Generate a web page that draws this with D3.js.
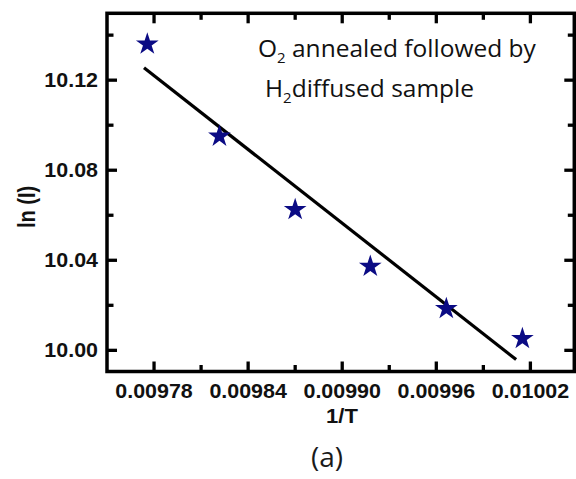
<!DOCTYPE html>
<html><head><meta charset="utf-8">
<script src="https://cdn.jsdelivr.net/npm/d3@7"></script>
<style>body{margin:0;background:#fff}svg{display:block}</style>
</head><body>
<script>
const invT = [0.0097757, 0.0098217, 0.00987, 0.0099179, 0.0099664, 0.0100149];
const lnI = [10.136, 10.0951, 10.0625, 10.0373, 10.0185, 10.0052];
const fitX = [0.0097736, 0.0100109];
const fitY = [10.1255, 9.9959];
const xTicks = [0.00978, 0.00984, 0.00990, 0.00996, 0.01002];
const xTickLabels = ["0.00978", "0.00984", "0.00990", "0.00996", "0.01002"];
const yTicks = [10.00, 10.04, 10.08, 10.12];
const yTickLabels = ["10.00", "10.04", "10.08", "10.12"];
const xMinor = [0.00981, 0.00987, 0.00993, 0.00999];
const yMinor = [10.02, 10.06, 10.10, 10.14];

const W = 576, H = 479;
const L = 107, R = 574.3, T = 13.3, B = 371.5;
const svg = d3.select("body").append("svg").attr("width", W).attr("height", H);
const x = d3.scaleLinear().domain([0.00975, 0.010048]).range([L, R]);
const y = d3.scaleLinear().domain([9.9906, 10.1497]).range([B, T]);

const ink = "#000";
const lab = "bold 19.5px 'Liberation Sans', Arial, sans-serif";

// inward ticks, drawn through the scales
const xt = xTicks.map(v => ({v, len: 10})).concat(xMinor.map(v => ({v, len: 6.5})));
const yt = yTicks.map(v => ({v, len: 10})).concat(yMinor.map(v => ({v, len: 6.5})));
const tk = svg.append("g");
tk.selectAll(".xb").data(xt).join("line").attr("class", "xb")
  .attr("x1", d => x(d.v)).attr("x2", d => x(d.v)).attr("y1", B).attr("y2", d => B - d.len)
  .attr("stroke", ink).attr("stroke-width", 3.3);
tk.selectAll(".xt").data(xt).join("line").attr("class", "xt")
  .attr("x1", d => x(d.v)).attr("x2", d => x(d.v)).attr("y1", T).attr("y2", d => T + d.len)
  .attr("stroke", ink).attr("stroke-width", 3.3);
tk.selectAll(".yl").data(yt).join("line").attr("class", "yl")
  .attr("y1", d => y(d.v)).attr("y2", d => y(d.v)).attr("x1", L).attr("x2", d => L + d.len)
  .attr("stroke", ink).attr("stroke-width", 3.3);
tk.selectAll(".yr").data(yt).join("line").attr("class", "yr")
  .attr("y1", d => y(d.v)).attr("y2", d => y(d.v)).attr("x1", R).attr("x2", d => R - d.len)
  .attr("stroke", ink).attr("stroke-width", 3.3);

svg.append("rect").attr("x", L).attr("y", T).attr("width", R - L).attr("height", B - T)
  .attr("fill", "none").attr("stroke", ink).attr("stroke-width", 3.5);

// tick labels
svg.append("g").selectAll("text").data(xTicks).join("text")
  .attr("transform", d => `translate(${x(d)},${B + 26}) scale(1.1,1)`)
  .attr("text-anchor", "middle").style("font", lab).attr("fill", "#111")
  .text((d, i) => xTickLabels[i]);
svg.append("g").selectAll("text").data(yTicks).join("text")
  .attr("transform", d => `translate(${L - 9},${y(d) + 7}) scale(1.1,1)`)
  .attr("text-anchor", "end").style("font", lab).attr("fill", "#111")
  .text((d, i) => yTickLabels[i]);

// axis titles
svg.append("text").attr("transform", `translate(342,423) scale(1.1,1)`).attr("text-anchor", "middle")
  .style("font", "bold 20px 'Liberation Sans', Arial, sans-serif").attr("fill", "#111").text("1/T");
svg.append("text").attr("transform", `translate(35,207) scale(1.15,1) rotate(-90)`).attr("text-anchor", "middle")
  .style("font", "bold 20px 'Liberation Sans', Arial, sans-serif").attr("fill", "#111").text("ln (I)");
svg.append("text").attr("x", 327).attr("y", 467).attr("text-anchor", "middle")
  .style("font", "28px 'Open Sans', 'Noto Sans', sans-serif").attr("fill", "#1a1a1a").text("(a)");

// fit line
svg.append("line").attr("x1", x(fitX[0])).attr("y1", y(fitY[0])).attr("x2", x(fitX[1])).attr("y2", y(fitY[1]))
  .attr("stroke", ink).attr("stroke-width", 3.2);

// stars
const star = d3.symbol().type(d3.symbolStar).size(160);
svg.append("g").selectAll("path").data(invT).join("path")
  .attr("d", star).attr("transform", (d, i) => `translate(${x(d)},${y(lnI[i])})`)
  .attr("fill", "#0b0b84");

// annotation
const af = "24.5px 'Open Sans', 'Noto Sans', sans-serif";
const t1 = svg.append("text").attr("x", 258).attr("y", 57).style("font", af).attr("fill", "#111");
t1.append("tspan").text("O");
t1.append("tspan").attr("dy", 6).style("font-size", "15px").text("2");
t1.append("tspan").attr("dy", -6).text(" annealed followed by");
const t2 = svg.append("text").attr("x", 265).attr("y", 97).style("font", af).attr("fill", "#111");
t2.append("tspan").text("H");
t2.append("tspan").attr("dy", 6).style("font-size", "15px").text("2");
t2.append("tspan").attr("dy", -6).text("diffused sample");
</script>
</body></html>
